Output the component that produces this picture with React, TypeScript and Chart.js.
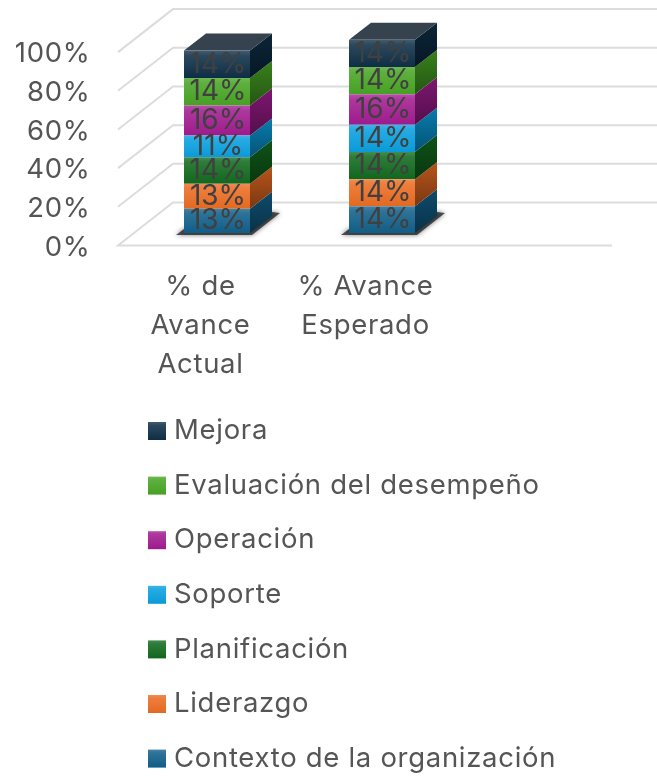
import React, { useEffect, useRef } from "react";
import { Chart, registerables } from "chart.js";

Chart.register(...registerables);

const categories: (string | string[])[] = [["% de", "Avance", "Actual"], ["% Avance", "Esperado"], ""];
const contexto = [12.6, 13.8, null];
const liderazgo = [12.9, 14.0, null];
const planificacion = [13.7, 14.1, null];
const soporte = [11.2, 14.1, null];
const operacion = [15.5, 15.7, null];
const evaluacion = [14.3, 14.1, null];
const mejora = [14.1, 14.1, null];
const seriesNames = ["Contexto de la organización", "Liderazgo", "Planificación", "Soporte", "Operación", "Evaluación del desempeño", "Mejora"];
const seriesValues = [contexto, liderazgo, planificacion, soporte, operacion, evaluacion, mejora];
const seriesColors = ["#12608a", "#ea6c22", "#126a1e", "#0a9fdf", "#a21c90", "#48a524", "#0e2f47"];

const FONT = "Inter";
const TEXT = "#555555";
const GRID = "#dcdcdc";
const DEPTH_X = 22;
const DEPTH_Y = -17;
const SPACING = "0.7px";

function mix(hex: string, target: number, t: number) {
  const n = parseInt(hex.slice(1), 16);
  const c = [(n >> 16) & 255, (n >> 8) & 255, n & 255].map((v) => Math.round(v + (target - v) * t));
  return `rgb(${c[0]},${c[1]},${c[2]})`;
}

function frontGradient(ctx: CanvasRenderingContext2D, y0: number, y1: number, color: string) {
  const g = ctx.createLinearGradient(0, y0, 0, y1);
  g.addColorStop(0, mix(color, 255, 0.22));
  g.addColorStop(0.18, mix(color, 255, 0.12));
  g.addColorStop(1, mix(color, 0, 0.03));
  return g;
}

const depthPlugin = {
  id: "depth",
  beforeDraw(chart: any) {
    chart.ctx.letterSpacing = SPACING;
  },
  beforeDatasetsDraw(chart: any) {
    const { ctx, scales } = chart;
    const y = scales.y;
    ctx.save();
    // gridlines on the wall and floor
    ctx.strokeStyle = GRID;
    ctx.lineWidth = 2;
    y.ticks.forEach((t: any) => {
      const py = y.getPixelForValue(t.value);
      ctx.beginPath();
      if (t.value === 0) {
        ctx.moveTo(612, py + 12.5);
        ctx.lineTo(118, py + 12.5);
        ctx.lineTo(173, py - 30.5);
      } else {
        ctx.moveTo(118, py + 12.5);
        ctx.lineTo(173, py - 30.5);
      }
      ctx.lineTo(657, py - 30.5);
      ctx.stroke();
    });
    // base shadow
    const first = chart.getDatasetMeta(0).data;
    first.forEach((bar: any, j: number) => {
      if (seriesValues[0][j] == null) return;
      const l = bar.x - bar.width / 2;
      const r = bar.x + bar.width / 2;
      const b = bar.base;
      ctx.save();
      ctx.shadowColor = "rgba(0,0,0,0.7)";
      ctx.shadowBlur = 5;
      ctx.fillStyle = "rgba(30,30,30,0.75)";
      ctx.beginPath();
      ctx.moveTo(l - 8, b + 2);
      ctx.lineTo(r + 2, b + 2);
      ctx.lineTo(r + DEPTH_X + 8, b - 20);
      ctx.lineTo(r + DEPTH_X, b - 21);
      ctx.lineTo(l, b - 4);
      ctx.closePath();
      ctx.fill();
      ctx.restore();
    });
    // side and top faces
    chart.data.datasets.forEach((ds: any, i: number) => {
      chart.getDatasetMeta(i).data.forEach((bar: any, j: number) => {
        if (ds.data[j] == null) return;
        const r = bar.x + bar.width / 2;
        const l = bar.x - bar.width / 2;
        const color = seriesColors[i];
        const g = ctx.createLinearGradient(0, bar.y + DEPTH_Y, 0, bar.base);
        g.addColorStop(0, mix(color, 0, 0.22));
        g.addColorStop(1, mix(color, 0, 0.48));
        ctx.fillStyle = g;
        ctx.beginPath();
        ctx.moveTo(r, bar.y);
        ctx.lineTo(r + DEPTH_X, bar.y + DEPTH_Y);
        ctx.lineTo(r + DEPTH_X, bar.base + DEPTH_Y);
        ctx.lineTo(r, bar.base);
        ctx.closePath();
        ctx.fill();
        if (i === chart.data.datasets.length - 1) {
          ctx.fillStyle = "#36434e";
          ctx.beginPath();
          ctx.moveTo(l, bar.y);
          ctx.lineTo(l + DEPTH_X, bar.y + DEPTH_Y);
          ctx.lineTo(r + DEPTH_X, bar.y + DEPTH_Y);
          ctx.lineTo(r, bar.y);
          ctx.closePath();
          ctx.fill();
        }
      });
    });
    ctx.restore();
  },
  afterDatasetsDraw(chart: any) {
    const { ctx } = chart;
    ctx.save();
    ctx.letterSpacing = "0px";
    ctx.font = `28px ${FONT}`;
    ctx.fillStyle = "#404040";
    ctx.textAlign = "center";
    ctx.textBaseline = "middle";
    chart.data.datasets.forEach((ds: any, i: number) => {
      chart.getDatasetMeta(i).data.forEach((bar: any, j: number) => {
        if (ds.data[j] == null) return;
        ctx.fillText(`${Math.round(ds.data[j])}%`, bar.x + 1, (bar.y + bar.base) / 2);
      });
    });
    ctx.restore();
  },
  afterDraw(chart: any) {
    const { ctx } = chart;
    ctx.save();
    ctx.font = `27.5px ${FONT}`;
    ctx.textAlign = "left";
    ctx.textBaseline = "middle";
    const names = [...seriesNames].reverse();
    const colors = [...seriesColors].reverse();
    names.forEach((name, k) => {
      const cy = 431 + k * 54.6;
      ctx.fillStyle = frontGradient(ctx, cy - 9, cy + 9, colors[k]);
      ctx.fillRect(148, cy - 9, 18, 18);
      ctx.fillStyle = TEXT;
      ctx.fillText(name, 174, cy);
    });
    ctx.restore();
  },
};

export default function App() {
  const ref = useRef<HTMLCanvasElement>(null);
  useEffect(() => {
    const chart = new Chart(ref.current as HTMLCanvasElement, {
      type: "bar",
      plugins: [depthPlugin],
      data: {
        labels: categories as any,
        datasets: seriesNames.map((label, i) => ({
          label,
          data: seriesValues[i] as any,
          backgroundColor: (c: any) => {
            const area = c.chart.chartArea;
            if (!area) return seriesColors[i];
            const y = c.chart.scales.y;
            let sum = 0;
            for (let k = 0; k < i; k++) sum += (seriesValues[k][c.dataIndex] as number) || 0;
            const v = (seriesValues[i][c.dataIndex] as number) || 0;
            return frontGradient(c.chart.ctx, y.getPixelForValue(sum + v), y.getPixelForValue(sum), seriesColors[i]);
          },
          borderWidth: 0,
          barPercentage: 0.4,
          categoryPercentage: 1,
        })),
      },
      options: {
        responsive: false,
        animation: false,
        layout: { padding: { left: 0, right: 27.5, top: 39.6, bottom: 0 } },
        plugins: { legend: { display: false }, tooltip: { enabled: false } },
        scales: {
          x: {
            stacked: true,
            afterFit: (s: any) => { s.height = 544; s.paddingLeft = 0; s.paddingRight = 0; },
            grid: { display: false, drawTicks: false },
            border: { display: false },
            ticks: {
              color: TEXT,
              font: { family: FONT, size: 27.5, lineHeight: 1.42 },
              maxRotation: 0,
              minRotation: 0,
              autoSkip: false,
              padding: 34,
              labelOffset: -16.5,
            },
          },
          y: {
            stacked: true,
            min: 0,
            max: 100,
            afterFit: (s: any) => { s.width = 134.5; s.paddingTop = 0; s.paddingBottom = 0; },
            grid: { display: false, drawTicks: false },
            border: { display: false },
            ticks: {
              stepSize: 20,
              autoSkip: false,
              color: TEXT,
              font: { family: FONT, size: 27.5 },
              padding: 44,
              labelOffset: 14.5,
              callback: (v: any) => `${v}%`,
            },
          },
        },
      },
    } as any);
    return () => chart.destroy();
  }, []);
  return (
    <div style={{ position: "absolute", left: 0, top: 0, width: 657, height: 777, background: "#fff", overflow: "hidden" }}>
      <canvas ref={ref} width={657} height={777} style={{ display: "block", filter: "blur(0.5px)" }} />
    </div>
  );
}
